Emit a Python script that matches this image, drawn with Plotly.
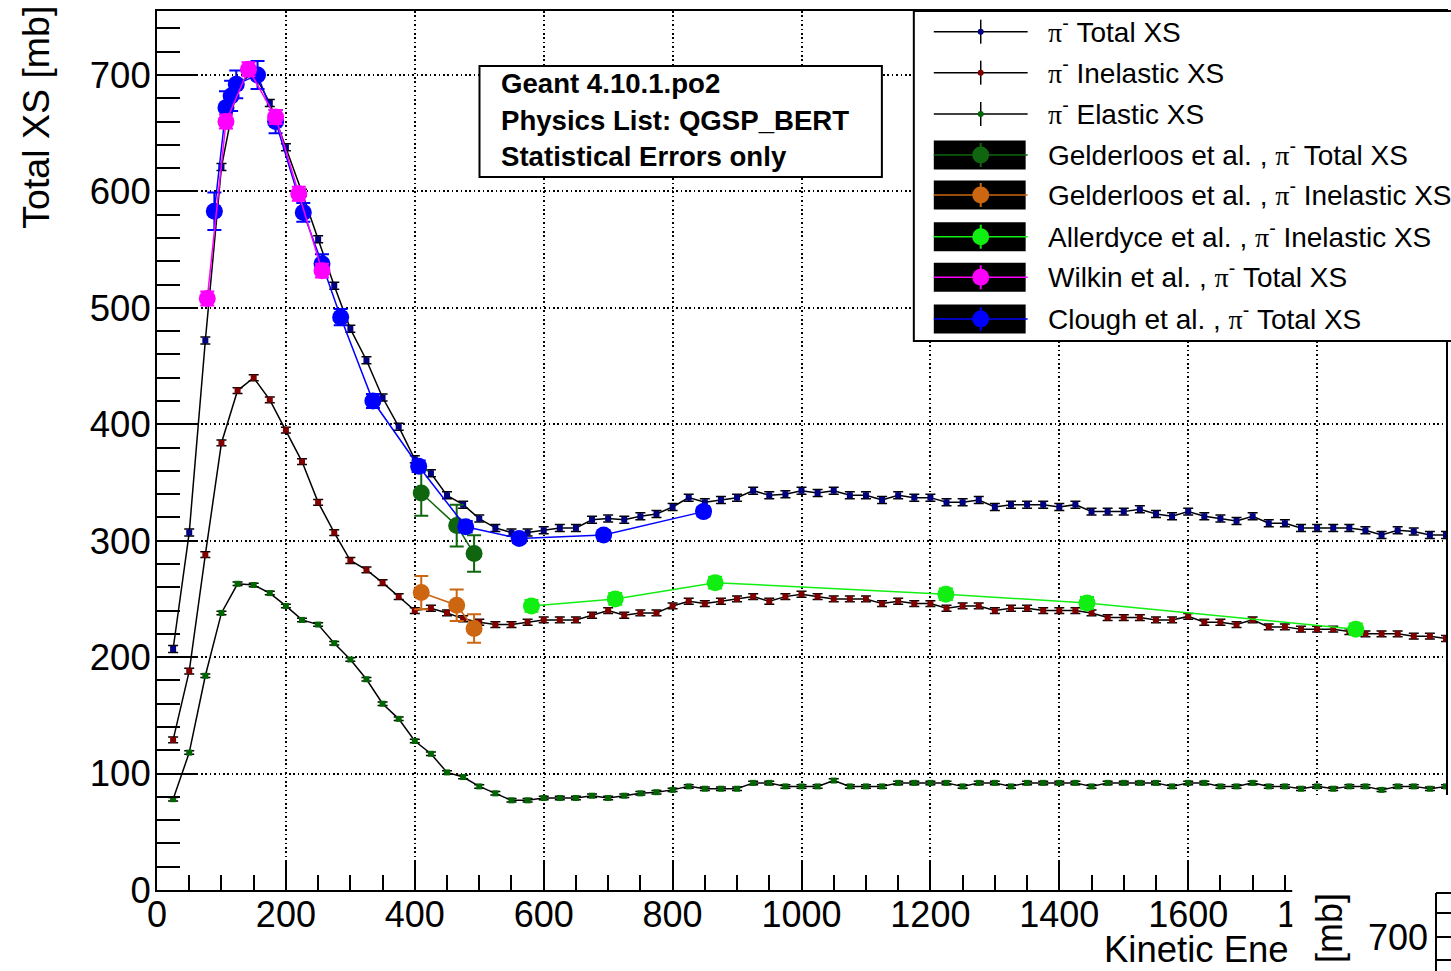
import plotly.graph_objects as go

# ---------------- data ----------------
energy = [25, 50, 75, 100, 125, 150, 175, 200, 225, 250, 275, 300, 325, 350, 375, 400,
          425, 450, 475, 500, 525, 550, 575, 600, 625, 650, 675, 700, 725, 750, 775, 800,
          825, 850, 875, 900, 925, 950, 975, 1000, 1025, 1050, 1075, 1100, 1125, 1150, 1175, 1200,
          1225, 1250, 1275, 1300, 1325, 1350, 1375, 1400, 1425, 1450, 1475, 1500, 1525, 1550, 1575, 1600,
          1625, 1650, 1675, 1700, 1725, 1750, 1775, 1800, 1825, 1850, 1875, 1900, 1925, 1950, 1975, 2000]

total_xs = [207, 307, 472, 621, 692, 702, 676, 638, 599, 559, 519, 482, 455, 423, 398, 370,
            358, 339, 331, 319, 311, 307, 307, 309, 311, 311, 318, 319, 318, 321, 323, 329,
            337, 333, 335, 337, 343, 339, 340, 343, 341, 343, 339, 339, 335, 339, 337, 337,
            333, 333, 335, 329, 331, 331, 331, 329, 331, 325, 325, 325, 327, 323, 321, 325,
            321, 319, 317, 321, 315, 315, 311, 311, 311, 311, 309, 305, 309, 308, 305, 305]

inelastic_xs = [129, 188, 288, 384, 429, 440, 421, 395, 368, 333, 307, 283, 275, 264, 252, 240,
                242, 238, 233, 230, 228, 228, 230, 232, 232, 232, 236, 240, 236, 238, 238, 244,
                248, 246, 248, 250, 252, 248, 252, 254, 252, 250, 250, 250, 246, 248, 246, 246,
                242, 244, 244, 240, 242, 242, 240, 240, 240, 238, 234, 234, 234, 232, 232, 235,
                230, 230, 228, 232, 226, 226, 224, 224, 224, 222, 220, 220, 220, 218, 218, 216]

elastic_xs = [78, 118, 184, 238, 263, 262, 255, 244, 232, 228, 212, 198, 181, 160, 147, 128,
              117, 101, 97, 89, 83, 77, 77, 79, 79, 79, 81, 79, 81, 83, 84, 86,
              89, 87, 87, 87, 92, 92, 89, 89, 89, 94, 89, 89, 89, 92, 92, 92,
              92, 89, 92, 92, 89, 92, 92, 92, 92, 89, 92, 92, 92, 92, 89, 92,
              92, 89, 89, 92, 89, 89, 87, 89, 87, 89, 89, 86, 89, 89, 87, 89]

gelderloos_tot_e = [410, 465, 492]
gelderloos_tot_xs = [341, 313, 289]
gelderloos_tot_err = [19.5, 18, 15.7]

gelderloos_inel_e = [410, 465, 492]
gelderloos_inel_xs = [255.5, 244.6, 224.6]
gelderloos_inel_err = [14.3, 13.6, 12.2]

allerdyce_e = [581, 711, 866, 1224, 1443, 1860]
allerdyce_xs = [244, 250, 264, 254, 246.6, 224]
allerdyce_err = [5, 5, 5, 5, 5, 5]

wilkin_e = [78, 107, 142, 184, 220, 256]
wilkin_xs = [508, 660, 705, 664, 598, 532]
wilkin_err = [6, 6, 6, 6, 6, 6]

clough_e = [89, 107, 115, 123, 156, 184, 227, 256, 285, 335, 406, 479, 562, 693, 848]
clough_xs = [583, 672, 682, 692, 700, 660, 582, 538, 492, 420, 364, 312, 302, 305, 325]
clough_err = [16, 14, 13, 12, 12, 10, 8, 8, 7, 6, 5, 5, 4, 4, 4]

x_ticks = [0, 200, 400, 600, 800, 1000, 1200, 1400, 1600, 1800]
y_ticks = [0, 100, 200, 300, 400, 500, 600, 700]

FONT = "Liberation Sans, Arial, Helvetica, sans-serif"
PI = "<span style='font-family:Liberation Serif, serif'>π</span><sup>-</sup>"

# ---------------- figure geometry (pixels) ----------------
W, H = 1451, 971
L, R, T, B = 157, 1448, 11, 890


def px(x):
    return (x - L) / (R - L)


def py(y):
    return (B - y) / (B - T)


fig = go.Figure()

# simulated cross sections
sim_series = [
    ("π- Total XS", total_xs, "#000080", 3.0),
    ("π- Inelastic XS", inelastic_xs, "#800000", 2.5),
    ("π- Elastic XS", elastic_xs, "#006600", 1.5),
]
for name, vals, col, err in sim_series:
    fig.add_trace(go.Scatter(
        x=energy, y=vals, mode="lines+markers", name=name,
        line=dict(color="black", width=1.5),
        marker=dict(symbol="square", size=6, color=col, line=dict(color=col, width=0)),
        error_y=dict(type="constant", value=err, color="black", thickness=1.5, width=5),
        showlegend=False,
    ))

# measurements
exp_series = [
    ("Gelderloos et al. , π- Total XS", gelderloos_tot_e, gelderloos_tot_xs, gelderloos_tot_err, "#0f660f"),
    ("Gelderloos et al. , π- Inelastic XS", gelderloos_inel_e, gelderloos_inel_xs, gelderloos_inel_err, "#cc6611"),
    ("Allerdyce et al. , π- Inelastic XS", allerdyce_e, allerdyce_xs, allerdyce_err, "#11ee11"),
    ("Clough et al. , π- Total XS", clough_e, clough_xs, clough_err, "#0000ff"),
    ("Wilkin et al. , π- Total XS", wilkin_e, wilkin_xs, wilkin_err, "#ff00ff"),
]
for name, ex, ey, eerr, col in exp_series:
    fig.add_trace(go.Scatter(
        x=ex, y=ey, mode="lines+markers", name=name,
        line=dict(color=col, width=1.5),
        marker=dict(symbol="circle", size=17, color=col),
        error_y=dict(type="data", array=eerr, color=col, thickness=2, width=7),
        showlegend=False,
    ))

shapes = []
annotations = []

# info box
shapes.append(dict(type="rect", xref="paper", yref="paper", x0=px(480), x1=px(883), y0=py(66), y1=py(177),
                   line=dict(color="black", width=2), fillcolor="white", layer="above"))
for txt, yc in [("Geant 4.10.1.po2", 83), ("Physics List: QGSP_BERT", 120), ("Statistical Errors only", 156)]:
    annotations.append(dict(text="<b>" + txt + "</b>", xref="paper", yref="paper", x=px(500), y=py(yc),
                            xanchor="left", yanchor="middle", showarrow=False,
                            font=dict(family=FONT, size=27.6, color="black")))

# legend box
shapes.append(dict(type="rect", xref="paper", yref="paper", x0=px(915), x1=px(1460), y0=py(11), y1=py(341),
                   line=dict(color="black", width=2), fillcolor="white", layer="above"))
rows = [31.7, 72.7, 114, 155, 195, 236.7, 277.3, 319]
legend_entries = [
    ("sim", "#000080", PI + " Total XS"),
    ("sim", "#800000", PI + " Inelastic XS"),
    ("sim", "#006600", PI + " Elastic XS"),
    ("exp", "#0f660f", "Gelderloos et al. , " + PI + " Total XS"),
    ("exp", "#cc6611", "Gelderloos et al. , " + PI + " Inelastic XS"),
    ("exp", "#11ee11", "Allerdyce et al. , " + PI + " Inelastic XS"),
    ("exp", "#ff00ff", "Wilkin et al. , " + PI + " Total XS"),
    ("exp", "#0000ff", "Clough et al. , " + PI + " Total XS"),
]
for (kind, col, label), yc in zip(legend_entries, rows):
    if kind == "sim":
        shapes.append(dict(type="line", xref="paper", yref="paper", x0=px(935), x1=px(1029), y0=py(yc), y1=py(yc),
                           line=dict(color="black", width=1.5), layer="above"))
        shapes.append(dict(type="line", xref="paper", yref="paper", x0=px(982), x1=px(982), y0=py(yc - 12), y1=py(yc + 12),
                           line=dict(color="black", width=1.5), layer="above"))
        shapes.append(dict(type="circle", xref="paper", yref="paper", x0=px(979), x1=px(985), y0=py(yc - 3), y1=py(yc + 3),
                           line=dict(color=col, width=0), fillcolor=col, layer="above"))
    else:
        shapes.append(dict(type="rect", xref="paper", yref="paper", x0=px(935), x1=px(1027), y0=py(yc - 14.5), y1=py(yc + 14.5),
                           line=dict(color="black", width=0), fillcolor="black", layer="above"))
        shapes.append(dict(type="line", xref="paper", yref="paper", x0=px(935), x1=px(1029), y0=py(yc), y1=py(yc),
                           line=dict(color=col, width=1.5), layer="above"))
        shapes.append(dict(type="line", xref="paper", yref="paper", x0=px(982), x1=px(982), y0=py(yc - 12), y1=py(yc + 12),
                           line=dict(color=col, width=2), layer="above"))
        shapes.append(dict(type="circle", xref="paper", yref="paper", x0=px(973.5), x1=px(990.5), y0=py(yc - 8.5), y1=py(yc + 8.5),
                           line=dict(color=col, width=0), fillcolor=col, layer="above"))
    annotations.append(dict(text=label, xref="paper", yref="paper", x=px(1047), y=py(yc - 2),
                            xanchor="left", yanchor="middle", showarrow=False,
                            font=dict(family=FONT, size=28, color="black")))

# axis titles
annotations.append(dict(text="Total XS [mb]", xref="paper", yref="paper", x=px(36), y=py(4),
                        xanchor="center", yanchor="top", textangle=-90, showarrow=False,
                        font=dict(family=FONT, size=37.5, color="black")))
annotations.append(dict(text="Kinetic Ene", xref="paper", yref="paper", x=px(1293), y=py(950),
                        xanchor="right", yanchor="middle", showarrow=False,
                        font=dict(family=FONT, size=36.5, color="black")))

# neighbouring canvas overlapping the lower-right corner
shapes.append(dict(type="rect", xref="paper", yref="paper", x0=px(1294), x1=px(1460), y0=py(795), y1=py(980),
                   line=dict(color="white", width=0), fillcolor="white", layer="above"))
shapes.append(dict(type="line", xref="paper", yref="paper", x0=px(1438), x1=px(1438), y0=py(893), y1=py(980),
                   line=dict(color="black", width=2), layer="above"))
shapes.append(dict(type="line", xref="paper", yref="paper", x0=px(1438), x1=px(1460), y0=py(893), y1=py(893),
                   line=dict(color="black", width=2), layer="above"))
for ty in [913, 937, 960]:
    shapes.append(dict(type="line", xref="paper", yref="paper", x0=px(1438), x1=px(1460), y0=py(ty), y1=py(ty),
                       line=dict(color="black", width=2), layer="above"))
annotations.append(dict(text="Total XS [mb]", xref="paper", yref="paper", x=px(1331), y=py(891),
                        xanchor="center", yanchor="top", textangle=-90, showarrow=False,
                        font=dict(family=FONT, size=36, color="black")))
annotations.append(dict(text="700", xref="paper", yref="paper", x=px(1432), y=py(938),
                        xanchor="right", yanchor="middle", showarrow=False,
                        font=dict(family=FONT, size=36, color="black")))

grid = dict(showgrid=True, gridcolor="#000000", gridwidth=1.6, griddash="1.6px,2.8px")

fig.update_layout(
    width=W, height=H,
    margin=dict(l=L, r=W - R, t=T, b=H - B, pad=0),
    paper_bgcolor="white", plot_bgcolor="white",
    shapes=shapes, annotations=annotations,
    showlegend=False,
    font=dict(family=FONT, color="black"),
    xaxis=dict(range=[0, 2000], tickvals=x_ticks, ticks="inside", ticklen=28, tickwidth=2,
               tickcolor="black", showline=True, linecolor="black", linewidth=2, mirror=True,
               zeroline=False, tickfont=dict(family=FONT, size=36, color="black"),
               ticklabelstandoff=-8,
               minor=dict(dtick=50, ticks="inside", ticklen=15, tickwidth=2, tickcolor="black", showgrid=False),
               **grid),
    yaxis=dict(range=[0, 755], tickvals=y_ticks, ticks="inside", ticklen=40, tickwidth=2,
               tickcolor="black", showline=True, linecolor="black", linewidth=2, mirror=True,
               zeroline=False, tickfont=dict(family=FONT, size=36.5, color="black"),
               ticklabelstandoff=-3,
               minor=dict(dtick=20, ticks="inside", ticklen=23, tickwidth=2, tickcolor="black", showgrid=False),
               **grid),
)

fig.write_html("out.html")
